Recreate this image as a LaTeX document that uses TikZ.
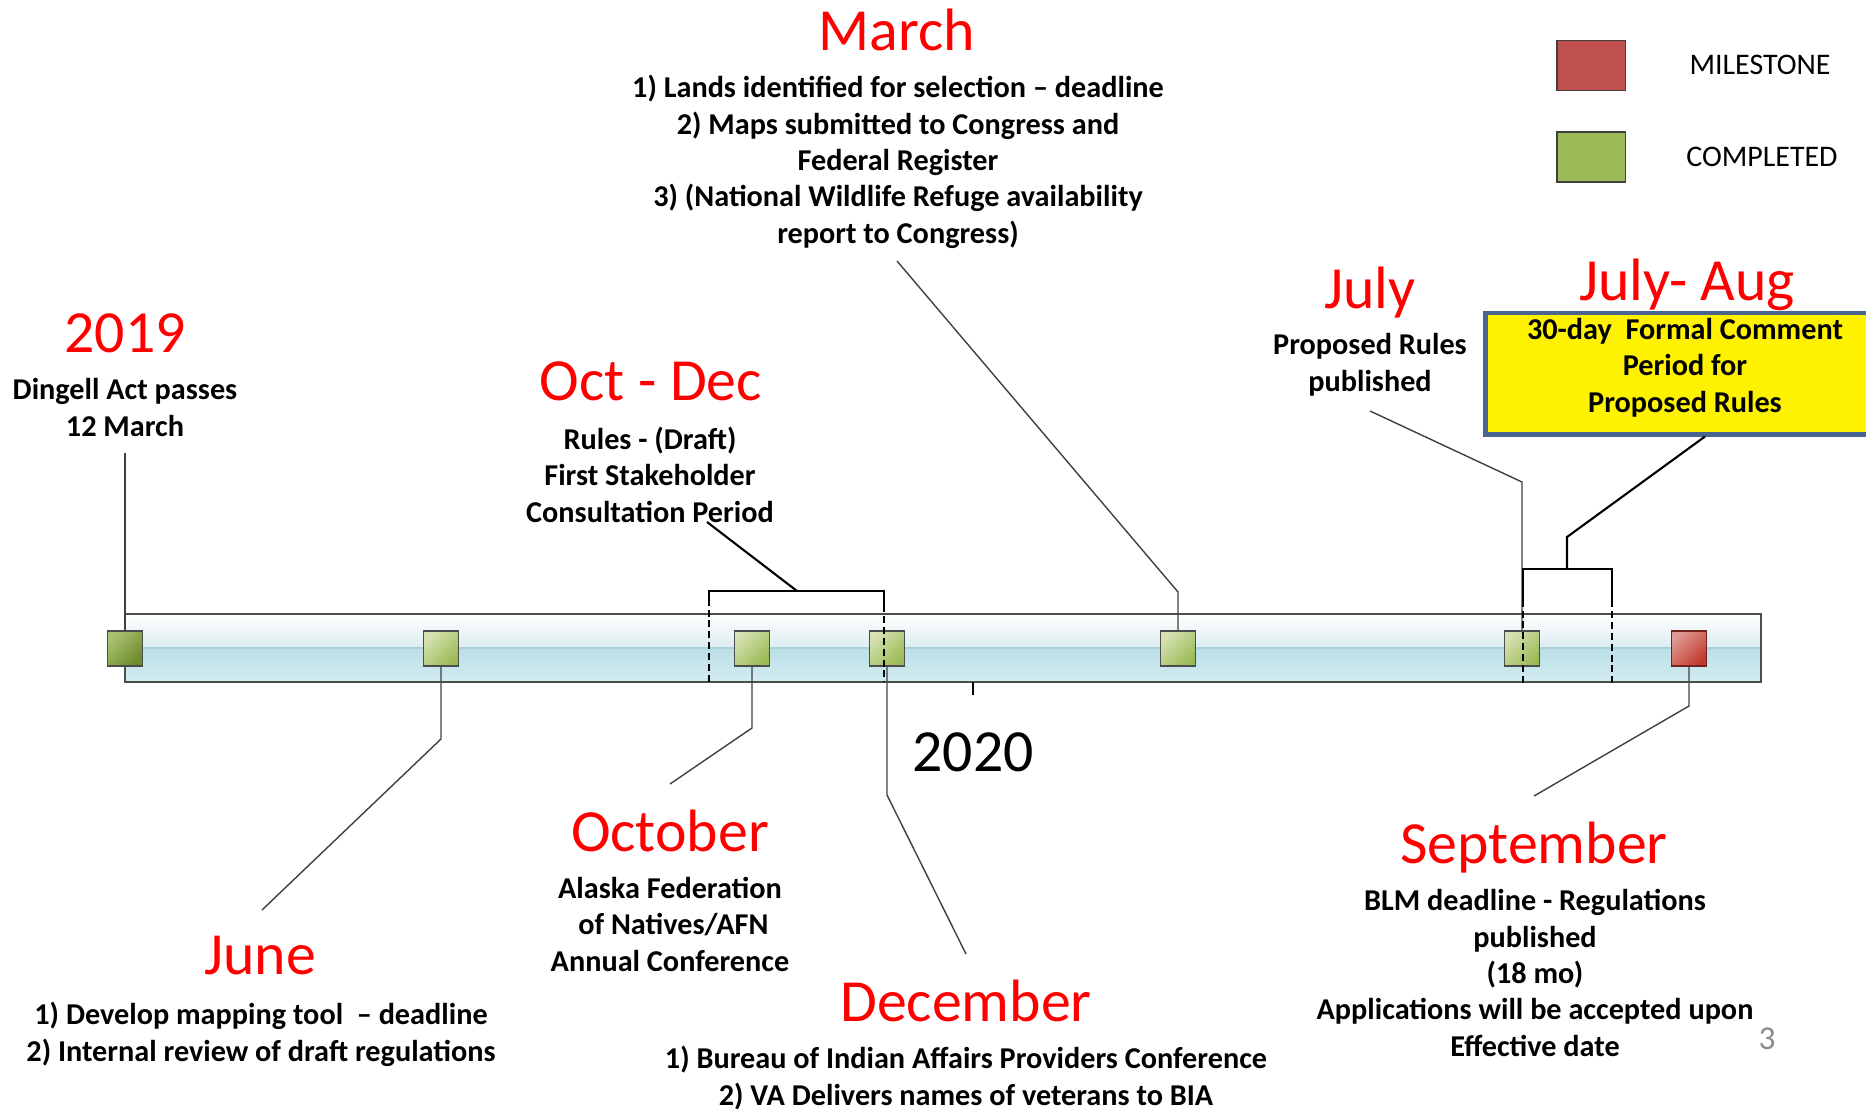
\documentclass[tikz,border=0pt]{standalone}
\usepackage{fontspec}
\setmainfont{Carlito}
\definecolor{boxline}{HTML}{4D4D4D}
\definecolor{leadline}{HTML}{404040}
\definecolor{evlight}{HTML}{D6E2B2}
\definecolor{evdark}{HTML}{9BBA55}
\definecolor{oldlight}{HTML}{A9C172}
\definecolor{olddark}{HTML}{6C8B2A}
\definecolor{duelight}{HTML}{DE9A92}
\definecolor{duedark}{HTML}{C23A2E}
\definecolor{barmid}{HTML}{DCEDF1}
\definecolor{barlow}{HTML}{BCDEE6}
\definecolor{barbot}{HTML}{D3ECF2}
\definecolor{barsep}{HTML}{A6D2DB}
\definecolor{legred}{HTML}{C0504D}
\definecolor{leggreen}{HTML}{9BBB59}
\definecolor{yellowline}{HTML}{4A6590}
\begin{document}
\begin{tikzpicture}[x=0.01cm,y=-0.01cm]
  \tikzset{
    month/.style={text=red,font=\fontsize{17}{20}\selectfont,anchor=base,inner sep=0pt},
    note/.style={font=\fontsize{8.6}{10.33}\selectfont\bfseries,align=center,anchor=base,inner sep=0pt},
    square/.style={draw=boxline,line width=0.5pt,minimum size=0.35cm,inner sep=0pt},
    event/.style={square,top color=evlight,bottom color=evdark,shading angle=45},
    event old/.style={square,top color=oldlight,bottom color=olddark,shading angle=45},
    event due/.style={square,draw=duedark!60!black,top color=duelight,bottom color=duedark,shading angle=45},
    leader/.style={draw=leadline,line width=0.4pt},
    bracket/.style={line width=0.6pt},
    gap/.style={bracket,dash pattern=on 2pt off 1.1pt},
    legend key/.style={draw=black!75,line width=0.3pt,minimum width=0.68cm,minimum height=0.5cm,fill=#1},
    legend text/.style={font=\fontsize{8.5}{10}\selectfont,anchor=base,inner sep=0pt},
    comment box/.style={draw=yellowline,line width=1.4pt,fill=yellow,minimum width=3.99cm,minimum height=1.21cm,inner sep=0pt}
  }
  \useasboundingbox (0,0) rectangle (1866,1109);
  \clip (0,0) rectangle (1866,1109);

  \shade[top color=white,bottom color=barmid] (125,614) rectangle (1761,648);
  \shade[top color=barlow,bottom color=barbot] (125,648) rectangle (1761,682);
  \draw[barsep,line width=0.3pt] (125,648) -- (1761,648);
  \draw[boxline,line width=0.55pt] (125,614) rectangle (1761,682);

  \node[event old] (s19) at (125,648.5) {};
  \node[event] (sjun) at (441,648.5) {};
  \node[event] (soct) at (752,648.5) {};
  \node[event] (sdec) at (887,648.5) {};
  \node[event] (smar) at (1178,648.5) {};
  \node[event] (sjul) at (1522,648.5) {};
  \node[event due] (ssep) at (1689,648.5) {};

  \node[month] (h19) at (125,352) {2019};
  \node[note] (t19) at (125,436) {Dingell Act passes\\12 March};
  \node[month] (hod) at (651,400) {Oct - Dec};
  \node[note] (tod) at (650,522) {Rules - (Draft)\\First Stakeholder\\Consultation Period};
  \node[month] (hmar) at (897,51) {March};
  \node[note] (tmar) at (898,243) {1) Lands identified for selection – deadline\\2) Maps submitted to Congress and\\Federal Register\\3) (National Wildlife Refuge availability\\report to Congress)};
  \node[month] (hjul) at (1370,308) {July};
  \node[note] (tjul) at (1370,391) {Proposed Rules\\published};
  \node[month] (haug) at (1687,300) {July- Aug};
  \node[comment box] (baug) at (1685,373.5) {};
  \node[note] (taug) at (1685,412) {30-day~ Formal Comment\\Period for\\Proposed Rules};
  \node[month] (hjun) at (260,974) {June};
  \node[note] (tjun) at (261,1061) {1) Develop mapping tool~ – deadline\\2) Internal review of draft regulations};
  \node[month] (hoct) at (670,851) {October};
  \node[note] (toct) at (670,971) {Alaska Federation\\\ of Natives/AFN\\Annual Conference};
  \node[month] (hdec) at (966,1021) {December};
  \node[note] (tdec) at (966,1105) {1) Bureau of Indian Affairs Providers Conference\\2) VA Delivers names of veterans to BIA};
  \node[month] (hsep) at (1534,863) {September};
  \node[note] (tsep) at (1535,1056) {BLM deadline - Regulations\\published\\(18 mo)\\Applications will be accepted upon\\Effective date};
  \node[month,text=black] (y20) at (973,771) {2020};

  \node[legend key=legred] (kmile) at (1591,65.5) {};
  \node[legend key=leggreen] (kdone) at (1591,157) {};
  \node[legend text] (lmile) at (1760,74) {MILESTONE};
  \node[legend text] (ldone) at (1762,166) {COMPLETED};
  \node[text=black!45,font=\fontsize{9.5}{11}\selectfont,anchor=base,inner sep=0pt] (pg) at (1767,1049) {3};

  \coordinate (e19) at (125,453);
  \coordinate (bjun) at (441,739);
  \coordinate (ejun) at (262,910);
  \coordinate (boct) at (752,728);
  \coordinate (eoct) at (670,784);
  \coordinate (bdec) at (887,795);
  \coordinate (edec) at (966,954);
  \coordinate (bmar) at (1178,592);
  \coordinate (emar) at (897,261);
  \coordinate (bjul) at (1522,482);
  \coordinate (ejul) at (1370,411);
  \coordinate (bsep) at (1689,706);
  \coordinate (esep) at (1534,796);
  \draw[leader] (s19.north) -- (e19);
  \draw[leader] (sjun.south) -- (bjun) -- (ejun);
  \draw[leader] (soct.south) -- (boct) -- (eoct);
  \draw[leader] (sdec.south) -- (bdec) -- (edec);
  \draw[leader] (smar.north) -- (bmar) -- (emar);
  \draw[leader] (sjul.north) -- (bjul) -- (ejul);
  \draw[leader] (ssep.south) -- (bsep) -- (esep);

  \coordinate (oda) at (709,682);
  \coordinate (odb) at (709,605);
  \coordinate (odc) at (884,605);
  \coordinate (odd) at (884,682);
  \coordinate (odm) at (797,591);
  \coordinate (ode) at (707,522);
  \draw[gap] (oda) -- (odb);
  \draw[gap] (odc) -- (odd);
  \draw[bracket] (odb) |- (odm) -| (odc);
  \draw[bracket] (odm) -- (ode);

  \coordinate (jaa) at (1523,683);
  \coordinate (jab) at (1523,600);
  \coordinate (jac) at (1612,600);
  \coordinate (jad) at (1612,683);
  \coordinate (jam) at (1567,569);
  \coordinate (jak) at (1567,537);
  \draw[gap] (jaa) -- (jab);
  \draw[gap] (jac) -- (jad);
  \draw[bracket] (jab) |- (jam) -| (jac);
  \draw[bracket] (jam) -- (jak) -- (baug.south -| 1705,0);

  \coordinate (tick) at (973,695);
  \draw[bracket] (973,682) -- (tick);
\end{tikzpicture}
\end{document}
